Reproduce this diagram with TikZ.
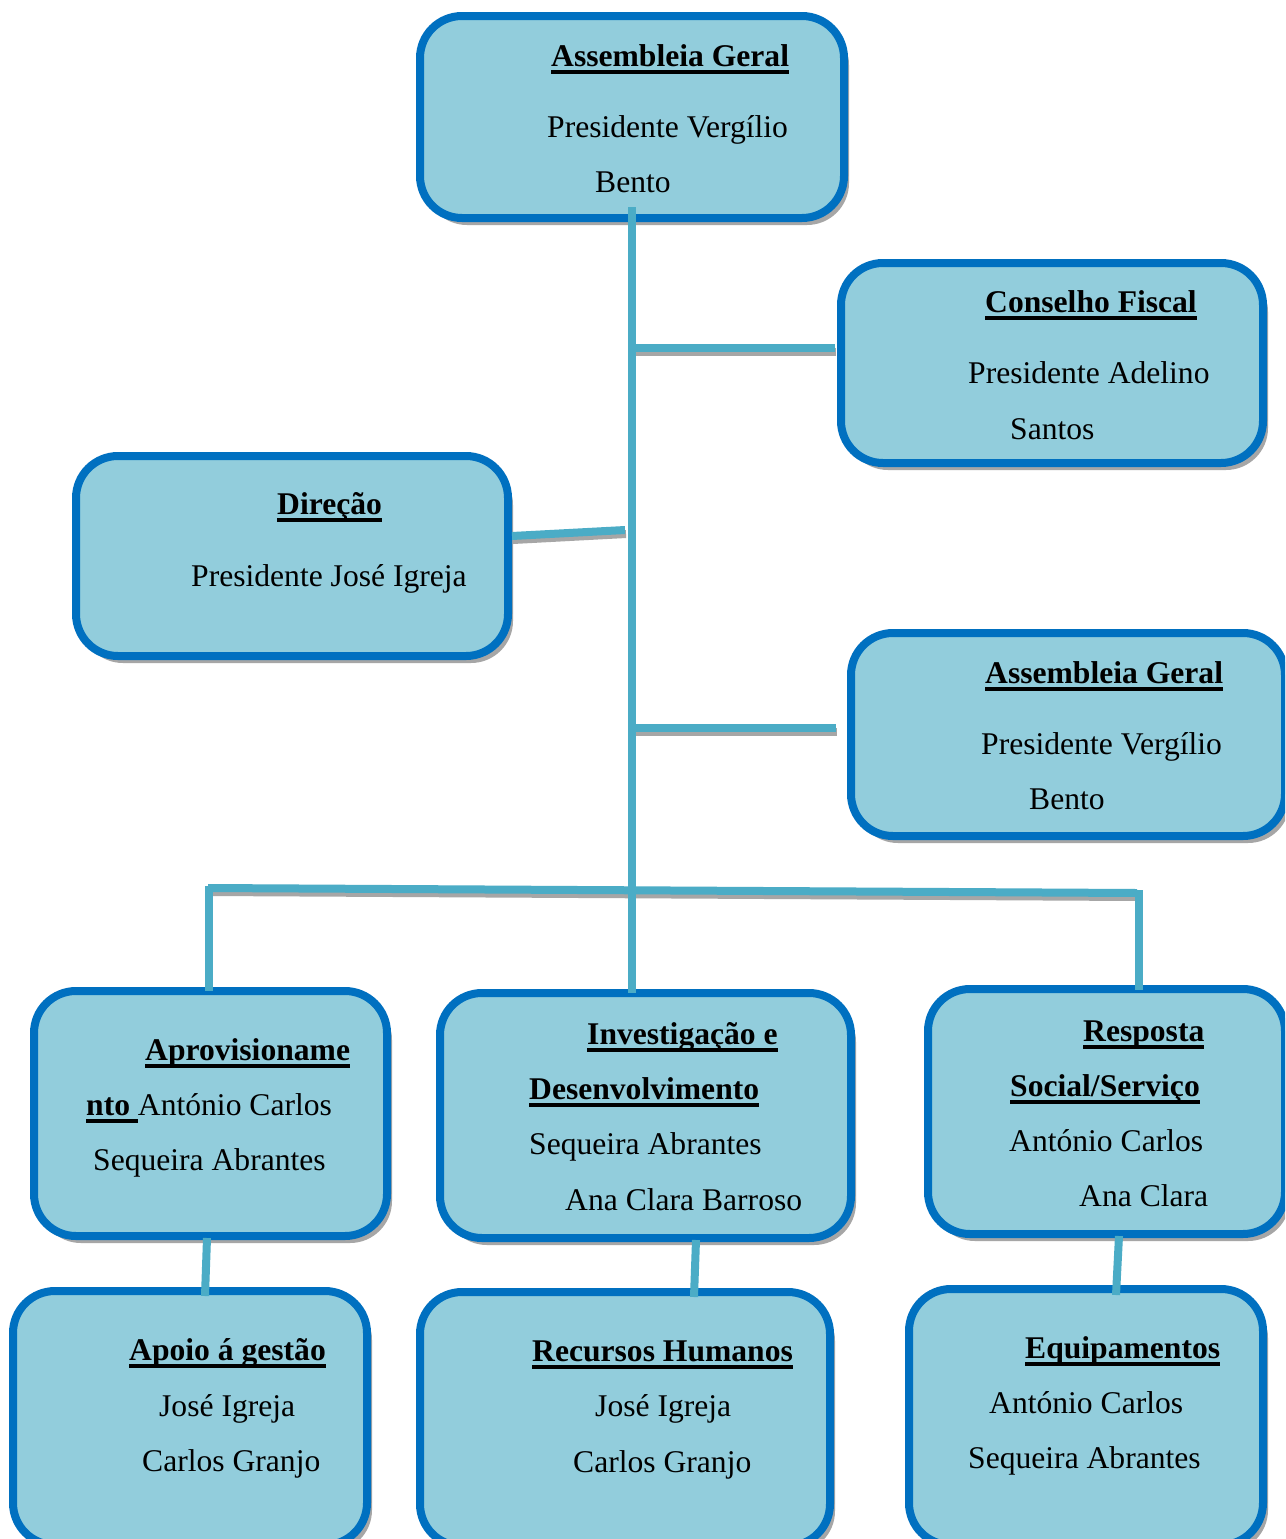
\documentclass[tikz,border=0pt]{standalone}
\usepackage{fontspec}
\setmainfont{Liberation Serif}
\usetikzlibrary{shadows}
\definecolor{boxfill}{HTML}{92CDDC}
\definecolor{boxline}{HTML}{0070C0}
\definecolor{conn}{HTML}{4BACC6}
\definecolor{shad}{HTML}{A6A6A6}
\newcommand\myul[1]{\setbox0\hbox{#1}\rlap{\rule[-7.5pt]{\wd0}{3.5pt}}\box0}
\begin{document}
\begin{tikzpicture}[x=1pt,y=-1pt,
 orgbox/.style={rectangle, draw=boxline, fill=boxfill, line width=8pt, rounded corners=42pt, inner sep=0pt,
   drop shadow={shadow xshift=5pt,shadow yshift=-7pt,fill=shad,opacity=1}},
 txt/.style={anchor=base west, inner sep=0pt, font=\fontsize{31.6}{38}\selectfont},
 link/.style={draw=conn, line width=8pt},
 linkshadow/.style={draw=shad, line width=8pt, transform canvas={xshift=1pt,yshift=-4pt}}
]
\useasboundingbox[fill=white] (0,0) rectangle (1285,1539);
\clip (0,0) rectangle (1285,1539);

% boxes
\node[orgbox, minimum width=424pt, minimum height=202pt] (n1) at (632,117) {};
\node[orgbox, minimum width=422pt, minimum height=200pt] (n2) at (1052,363) {};
\node[orgbox, minimum width=432pt, minimum height=200pt] (n3) at (292,556) {};
\node[orgbox, minimum width=434pt, minimum height=203pt] (n4) at (1068,734.5) {};
\node[orgbox, minimum width=353pt, minimum height=245pt] (n5) at (210.5,1113.5) {};
\node[orgbox, minimum width=411pt, minimum height=245pt] (n6) at (645.5,1115.5) {};
\node[orgbox, minimum width=357pt, minimum height=245pt] (n7) at (1106.5,1111.5) {};
\node[orgbox, minimum width=354pt, minimum height=254pt] (n8) at (190,1418) {};
\node[orgbox, minimum width=410pt, minimum height=254pt] (n9) at (625,1419) {};
\node[orgbox, minimum width=354pt, minimum height=256pt] (n10) at (1086,1417) {};

% connector points
\coordinate (j0) at (632,207);
\coordinate (j1) at (632,348);
\coordinate (cfL) at (835,348);
\coordinate (j2) at (625,530);
\coordinate (dR) at (512,536);
\coordinate (j3) at (632,728);
\coordinate (agL) at (836,728);
\coordinate (bl) at (208,888);
\coordinate (br) at (1137,893);
\coordinate (bl2) at (208.5,886);
\coordinate (br2) at (1139,890);
\coordinate (e5) at (208.5,991);
\coordinate (e6) at (632,993);
\coordinate (e7) at (1139,990);
\coordinate (s5a) at (207,1238);
\coordinate (s5b) at (205,1296);
\coordinate (s6a) at (696,1240);
\coordinate (s6b) at (694,1297);
\coordinate (s7a) at (1119,1236);
\coordinate (s7b) at (1116,1295);

% connector shadows
\draw[linkshadow] (j1) -- (cfL);
\draw[linkshadow] (dR) -- (j2);
\draw[linkshadow] (j3) -- (agL);
\draw[linkshadow] (bl) -- (br);

% connectors
\draw[link] (j0) -- (e6);
\draw[link] (j1) -- (cfL);
\draw[link] (dR) -- (j2);
\draw[link] (j3) -- (agL);
\draw[link] (bl) -- (br);
\draw[link] (bl2) -- (e5);
\draw[link] (br2) -- (e7);
\draw[link] (s5a) -- (s5b);
\draw[link] (s6a) -- (s6b);
\draw[link] (s7a) -- (s7b);

% texts
\node[txt] (t1a) at (551,66) {\myul{\bfseries Assembleia Geral}};
\node[txt] (t1b) at (547,137) {Presidente Vergílio};
\node[txt] (t1c) at (595,192) {Bento};

\node[txt] (t2a) at (985,312) {\myul{\bfseries Conselho Fiscal}};
\node[txt] (t2b) at (968,383) {Presidente Adelino};
\node[txt] (t2c) at (1010,439) {Santos};

\node[txt] (t3a) at (277,514) {\myul{\bfseries Direção}};
\node[txt] (t3b) at (191,586) {Presidente José Igreja};

\node[txt] (t4a) at (985,683) {\myul{\bfseries Assembleia Geral}};
\node[txt] (t4b) at (981,754) {Presidente Vergílio};
\node[txt] (t4c) at (1029,809) {Bento};

\node[txt] (t5a) at (145,1060) {\myul{\bfseries Aprovisioname}};
\node[txt] (t5b) at (86,1115) {\myul{\bfseries nto }António Carlos};
\node[txt] (t5c) at (93,1170) {Sequeira Abrantes};

\node[txt] (t6a) at (587,1044) {\myul{\bfseries Investigação e}};
\node[txt] (t6b) at (529,1099) {\myul{\bfseries Desenvolvimento}};
\node[txt] (t6c) at (529,1154) {Sequeira Abrantes};
\node[txt] (t6d) at (565,1210) {Ana Clara Barroso};

\node[txt] (t7a) at (1083,1041) {\myul{\bfseries Resposta}};
\node[txt] (t7b) at (1010,1096) {\myul{\bfseries Social/Serviço}};
\node[txt] (t7c) at (1009,1151) {António Carlos};
\node[txt] (t7d) at (1079,1206) {Ana Clara};

\node[txt] (t8a) at (129,1360) {\myul{\bfseries Apoio á gestão}};
\node[txt] (t8b) at (159,1416) {José Igreja};
\node[txt] (t8c) at (142,1471) {Carlos Granjo};

\node[txt] (t9a) at (532,1361) {\myul{\bfseries Recursos Humanos}};
\node[txt] (t9b) at (595,1416) {José Igreja};
\node[txt] (t9c) at (573,1472) {Carlos Granjo};

\node[txt] (t10a) at (1025,1358) {\myul{\bfseries Equipamentos}};
\node[txt] (t10b) at (989,1413) {António Carlos};
\node[txt] (t10c) at (968,1468) {Sequeira Abrantes};
\end{tikzpicture}
\end{document}
